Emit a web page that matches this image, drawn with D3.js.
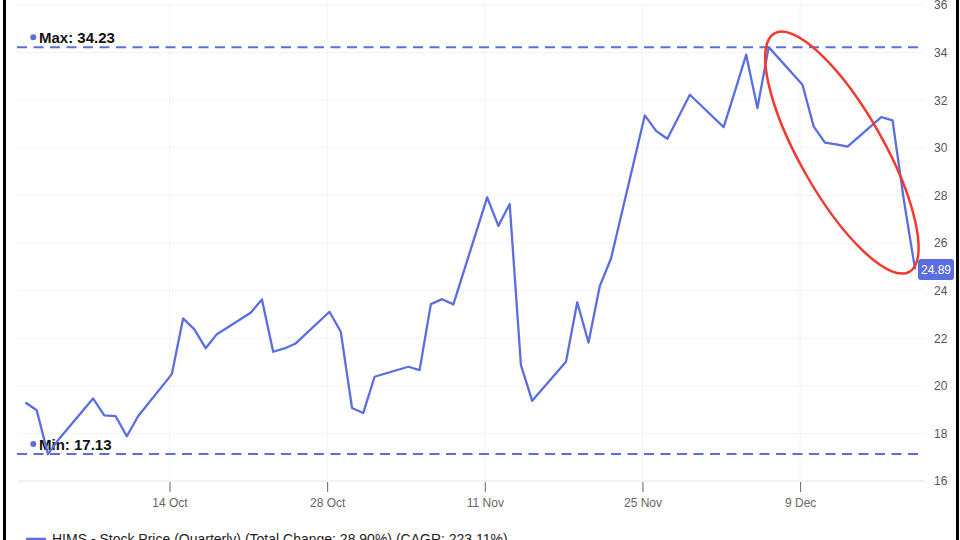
<!DOCTYPE html>
<html><head><meta charset="utf-8">
<script src="https://cdn.jsdelivr.net/npm/d3@7"></script>
<style>
body{margin:0;background:#fff}
svg{display:block}
text{font-family:"Liberation Sans",Arial,Helvetica,sans-serif}
</style>
</head><body><svg id="c" width="960" height="540"></svg>
<script>
// ---------------- data ----------------
const dates = [
  "2024-10-01","2024-10-02","2024-10-03","2024-10-04","2024-10-07","2024-10-08","2024-10-09","2024-10-10","2024-10-11",
  "2024-10-14","2024-10-15","2024-10-16","2024-10-17","2024-10-18","2024-10-21","2024-10-22","2024-10-23","2024-10-24","2024-10-25",
  "2024-10-28","2024-10-29","2024-10-30","2024-10-31","2024-11-01","2024-11-04","2024-11-05","2024-11-06","2024-11-07","2024-11-08",
  "2024-11-11","2024-11-12","2024-11-13","2024-11-14","2024-11-15","2024-11-18","2024-11-19","2024-11-20","2024-11-21","2024-11-22",
  "2024-11-25","2024-11-26","2024-11-27","2024-11-29","2024-12-02","2024-12-03","2024-12-04","2024-12-05","2024-12-06",
  "2024-12-09","2024-12-10","2024-12-11","2024-12-12","2024-12-13","2024-12-16","2024-12-17","2024-12-18","2024-12-19"
];
const prices = [
  19.30,18.97,17.13,17.78,19.47,18.76,18.73,17.88,18.72,
  20.49,22.83,22.37,21.58,22.17,23.07,23.63,21.43,21.57,21.78,
  23.11,22.27,19.07,18.86,20.38,20.80,20.66,23.43,23.64,23.42,
  27.92,26.72,27.64,20.87,19.37,21.01,23.51,21.82,24.19,25.35,
  31.36,30.71,30.38,32.23,30.87,32.37,33.91,31.67,34.23,
  32.65,30.89,30.22,30.14,30.05,31.29,31.15,27.81,24.89
];
const xTickDates = ["2024-10-14","2024-10-28","2024-11-11","2024-11-25","2024-12-09"];
const yTicks = [16,18,20,22,24,26,28,30,32,34,36];
const seriesName = "HIMS - Stock Price (Quarterly) (Total Change: 28.90%) (CAGR: 223.11%)";
// highlighted region (annotation ellipse): centre date / value
const highlightCenter = {date: "2024-12-12T17:00:00Z", value: 29.8};

// ---------------- setup ----------------
const W = 960, H = 540;
const plot = {left: 17, right: 924, top: 5, bottom: 481};
const blue = "#5b6ee1";
const svg = d3.select("#c");

const parseDay = d3.utcParse("%Y-%m-%d");
// closing prices are stamped at midnight New York time (05:00 UTC)
const pts = dates.map((d, i) => ({date: d3.utcHour.offset(parseDay(d), 5), value: prices[i]}));

const first = pts[0].date, last = pts[pts.length - 1].date;
const x = d3.scaleUtc()
  .domain([d3.utcHour.offset(first, -18), d3.utcHour.offset(last, 19)])
  .range([plot.left, plot.right]);
const y = d3.scaleLinear().domain([16, 36]).range([plot.bottom, plot.top]);

svg.append("rect").attr("width", W).attr("height", H).attr("fill", "#fff");

// grid
const grid = svg.append("g");
grid.selectAll("line.h").data(yTicks).join("line")
  .attr("x1", plot.left).attr("x2", plot.right)
  .attr("y1", d => y(d)).attr("y2", d => y(d))
  .attr("stroke", d => d === 16 ? "#e4e4e4" : "#f3f3f3").attr("stroke-width", 1);
grid.selectAll("line.v").data(xTickDates.map(parseDay)).join("line")
  .attr("x1", d => x(d)).attr("x2", d => x(d))
  .attr("y1", plot.top).attr("y2", plot.bottom)
  .attr("stroke", "#f3f3f3").attr("stroke-width", 1);

// x axis
const xAxis = d3.axisBottom(x)
  .tickValues(xTickDates.map(parseDay))
  .tickFormat(d3.utcFormat("%-d %b"))
  .tickSize(10).tickPadding(6);
const gx = svg.append("g").attr("transform", `translate(0,${plot.bottom + 1})`).call(xAxis);
gx.select(".domain").remove();
gx.selectAll(".tick line").attr("stroke", "#666");
gx.selectAll(".tick text").attr("fill", "#666").attr("font-size", 12)
  .style("font-family", '"Liberation Sans",Arial,sans-serif');

// y axis (right)
const yAxis = d3.axisRight(y).tickValues(yTicks).tickSize(0).tickPadding(10);
const gy = svg.append("g").attr("transform", `translate(${plot.right},0)`).call(yAxis);
gy.select(".domain").remove();
gy.selectAll(".tick text").attr("fill", "#555").attr("font-size", 12)
  .style("font-family", '"Liberation Sans",Arial,sans-serif');

// max / min dashed lines
const maxV = d3.max(prices), minV = d3.min(prices);
[["Max", maxV], ["Min", minV]].forEach(([lab, v]) => {
  svg.append("line")
    .attr("x1", plot.left).attr("x2", plot.right)
    .attr("y1", y(v)).attr("y2", y(v))
    .attr("stroke", blue).attr("stroke-width", 2)
    .attr("stroke-dasharray", "10,6.5");
  svg.append("circle").attr("cx", 33.3).attr("cy", y(v) - 10).attr("r", 3).attr("fill", blue);
  svg.append("text").attr("x", 39).attr("y", y(v) - 10).attr("dy", "0.36em")
    .attr("font-size", 15).attr("font-weight", "bold").attr("fill", "#111")
    .text(`${lab}: ${v.toFixed(2)}`);
});

// price line
const line = d3.line().x(d => x(d.date)).y(d => y(d.value));
svg.append("path").datum(pts)
  .attr("d", line).attr("fill", "none")
  .attr("stroke", blue).attr("stroke-width", 2.3)
  .attr("stroke-linejoin", "round");

// annotation ellipse
const hc = {x: x(new Date(highlightCenter.date)), y: y(highlightCenter.value)};
svg.append("ellipse")
  .attr("cx", 0).attr("cy", 0).attr("rx", 137).attr("ry", 42)
  .attr("transform", `translate(${hc.x},${hc.y}) rotate(60.5)`)
  .attr("fill", "none").attr("stroke", "#f23a2f").attr("stroke-width", 2.5);

// last value label
const lastV = prices[prices.length - 1];
const lg = svg.append("g").attr("transform", `translate(${plot.right - 6},${y(lastV)})`);
lg.append("rect").attr("x", 0).attr("y", -10.5).attr("width", 36).attr("height", 21).attr("rx", 3)
  .attr("fill", blue);
lg.append("text").attr("x", 18).attr("y", 0).attr("dy", "0.36em").attr("text-anchor", "middle")
  .attr("font-size", 12).attr("fill", "#fff").text(lastV.toFixed(2));

// legend
svg.append("line").attr("x1", 26).attr("x2", 46).attr("y1", 539).attr("y2", 539)
  .attr("stroke", blue).attr("stroke-width", 2.5);
svg.append("text").attr("x", 52).attr("y", 544).attr("font-size", 14).attr("fill", "#222")
  .text(seriesName);

// frame borders
svg.append("rect").attr("x", 3).attr("y", 0).attr("width", 3).attr("height", H).attr("fill", "#000");
svg.append("rect").attr("x", 956).attr("y", 0).attr("width", 3).attr("height", H).attr("fill", "#000");
</script>
</body></html>
